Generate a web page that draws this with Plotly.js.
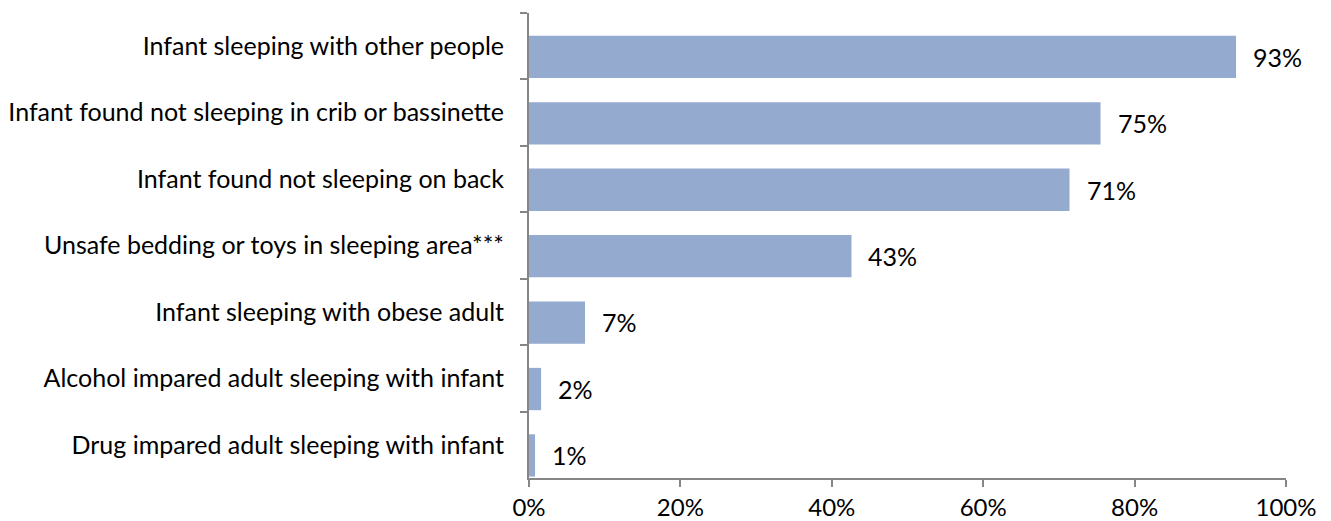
<!DOCTYPE html>
<html>
<head>
<meta charset="utf-8">
<script src="https://cdn.plot.ly/plotly-3.0.1.min.js"></script>
<style>html,body{margin:0;padding:0;background:#fff;}#chart{width:1331px;height:521px;}</style>
</head>
<body>
<div id="chart"></div>
<script>
const categories = [
  "Infant sleeping with other people",
  "Infant found not sleeping in crib or bassinette",
  "Infant found not sleeping on back",
  "Unsafe bedding or toys in sleeping area***",
  "Infant sleeping with obese adult",
  "Alcohol impared adult sleeping with infant",
  "Drug impared adult sleeping with infant"
];
const values = [93.4, 75.5, 71.4, 42.6, 7.4, 1.6, 0.8];
const labels = ["93%", "75%", "71%", "43%", "7%", "2%", "1%"];
const xTickVals = [0, 20, 40, 60, 80, 100];
const xTickText = ["0%", "20%", "40%", "60%", "80%", "100%"];

const FONT = "Lato, 'Open Sans', sans-serif";
const FS = 25;

const trace = {
  type: "bar",
  orientation: "h",
  x: values,
  y: categories,
  width: 0.637,
  offset: -0.158,
  marker: {color: "#95AACF", line: {width: 0}},
  hoverinfo: "none"
};

const annotations = categories.map((c, i) => ({
  x: values[i], y: c, xref: "x", yref: "y",
  text: labels[i], showarrow: false,
  xanchor: "left", yanchor: "middle", xshift: 15, yshift: -10.5,
  font: {family: FONT, size: FS, color: "#000"}
}));

const layout = {
  width: 1331, height: 521,
  margin: {l: 529, r: 45, t: 13, b: 43, pad: 0},
  paper_bgcolor: "#fff", plot_bgcolor: "#fff",
  showlegend: false,
  font: {family: FONT, size: FS, color: "#000"},
  xaxis: {
    range: [0, 100], fixedrange: true,
    tickvals: xTickVals, ticktext: xTickText,
    ticks: "outside", ticklen: 7, tickcolor: "#868686", tickwidth: 2,
    showline: true, linecolor: "#868686", linewidth: 2,
    showgrid: false, zeroline: false,
    ticklabelstandoff: 0,
    tickfont: {family: FONT, size: 24, color: "#000"}
  },
  yaxis: {
    autorange: "reversed", type: "category",
    tickson: "boundaries",
    ticks: "outside", ticklen: 7, tickcolor: "#868686", tickwidth: 2,
    showline: true, linecolor: "#868686", linewidth: 2,
    showgrid: false, zeroline: false,
    ticklabelstandoff: 18,
    tickfont: {family: FONT, size: FS, color: "#000"}
  },
  annotations: annotations
};

Plotly.newPlot("chart", [trace], layout, {displayModeBar: false, staticPlot: true});
</script>
</body>
</html>
